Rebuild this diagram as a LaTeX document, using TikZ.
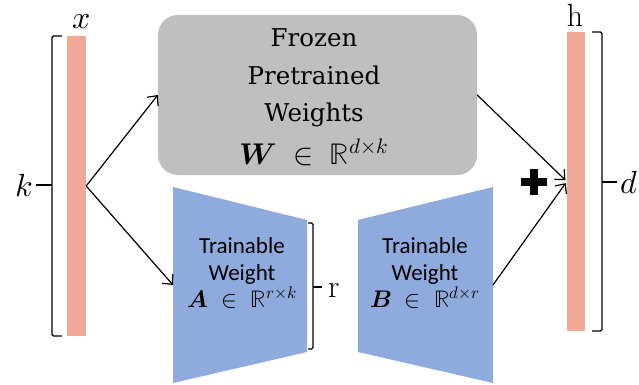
\documentclass[tikz,border=0pt]{standalone}
\usepackage{amsmath}
\usepackage{fontspec}
\usepackage{unicode-math}
\setmathfont{Latin Modern Math}
\newfontfamily\labelsans{Carlito}
\newfontfamily\boxserif{DejaVu Serif}
\usetikzlibrary{arrows.meta}

\definecolor{vecfill}{RGB}{240,169,150}
\definecolor{frozenfill}{RGB}{191,191,191}
\definecolor{lorafill}{RGB}{143,170,220}

\tikzset{
  vecbar/.style={fill=vecfill, draw=none, minimum width=19pt, inner sep=0pt},
  frozenbox/.style={fill=frozenfill, draw=none, rounded corners=20pt,
    minimum width=319pt, minimum height=160pt, inner sep=0pt},
  lorashape/.style={fill=lorafill, draw=none},
  flow/.style={draw=black, line width=1.2pt,
    -{Straight Barb[length=7.5pt,width=14pt,line width=1.2pt]}},
  brace/.style={draw=black, line width=1.1pt, rounded corners=1.5pt},
  serifbig/.style={font=\boxserif\fontsize{24.5}{37.5}\selectfont, align=center, inner sep=0pt},
  sanslabel/.style={font=\labelsans\fontsize{23}{27}\selectfont, align=center, inner sep=0pt},
  dimlabel/.style={font=\fontsize{32}{36}\selectfont, inner sep=0pt},
}

\begin{document}
\begin{tikzpicture}[x=1pt, y=-1pt]
\useasboundingbox (0,0) rectangle (639,385);

% input and output vectors
\node[vecbar, minimum height=300pt] (xin) at (76.5,186) {};
\node[vecbar, minimum height=299pt, minimum width=18pt] (hout) at (576,181.5) {};

% frozen pretrained weights (text anchored at the baseline of its last line)
\node[frozenbox] (frozen) at (317.5,95) {};
\node[serifbig, anchor=base] (frozentext) at (314,164)
  {Frozen\\Pretrained\\Weights\\[5pt]\fontsize{30}{37.5}\selectfont$\symbfit{W}\;\in\;\mathbb{R}^{d\times k}$};

% low-rank adapter matrices A and B
\path[lorashape] (173,187) -- (307,220) -- (307,352) -- (173,383) -- cycle;
\path[lorashape] (358,220) -- (493,187) -- (493,383) -- (358,352) -- cycle;
\coordinate (Ain) at (173,285);
\coordinate (Bout) at (493,285);
\node[sanslabel, anchor=base] (Atext) at (242,307)
  {Trainable\\Weight\\\fontsize{24}{27}\selectfont$\symbfit{A}\;\in\;\mathbb{R}^{r\times k}$};
\node[sanslabel, anchor=base] (Btext) at (425,307)
  {Trainable\\Weight\\\fontsize{24}{27}\selectfont$\symbfit{B}\;\in\;\mathbb{R}^{d\times r}$};

% data flow
\draw[flow] (xin.east) -- (frozen.west);
\draw[flow] (xin.east) -- (Ain);
\draw[flow, shorten >=2pt] (frozen.east) -- (hout.west);
\draw[flow, shorten >=2pt] (Bout) -- (hout.west);

% sum sign
\node[inner sep=0pt, minimum size=26pt] (plus) at (534,182) {};
\draw[line width=7.5pt] (plus.west) -- (plus.east) (plus.north) -- (plus.south);

% dimension braces
\draw[brace] (62,36) -- (52,36) -- (52,336) -- (62,336);
\draw[brace] (52,185) -- (36,185);
\node[dimlabel, anchor=east] (klab) at (33,186) {$k$};
\node[dimlabel] (xlab) at (82,22) {$x$};

\draw[brace] (592,32) -- (602,32) -- (602,331) -- (592,331);
\draw[brace] (602,182) -- (617,182);
\node[dimlabel, anchor=west] (dlab) at (620,183) {$d$};
\node[dimlabel, anchor=base] (hlab) at (575,27) {h};

\draw[brace] (308,223) -- (313,223) -- (313,349) -- (308,349);
\draw[brace] (313,287) -- (322,287);
\node[dimlabel, anchor=base west] (rlab) at (328,297) {r};
\end{tikzpicture}
\end{document}
